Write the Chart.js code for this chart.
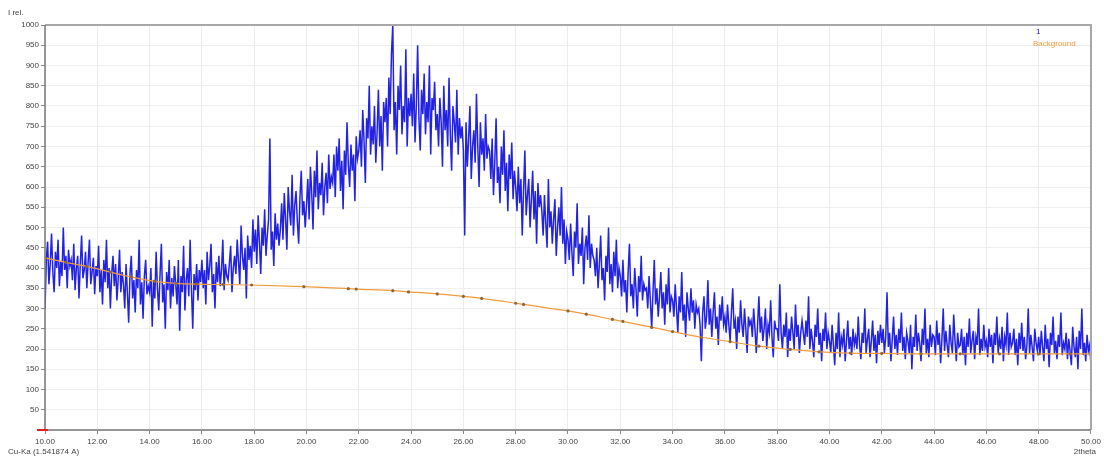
<!DOCTYPE html>
<html><head><meta charset="utf-8">
<script src="https://cdn.jsdelivr.net/npm/chart.js@4.4.1/dist/chart.umd.min.js"></script>
<style>html,body{margin:0;padding:0;background:#fff}#wrap{width:1104px;height:457px;position:relative}</style>
</head><body><div id="wrap"><canvas id="c" width="1104" height="457"></canvas></div>
<script>
// Scan: 2theta from 10.00 to 50.00 in 0.05 deg steps
const scanStart = 10.0;
const scanStep = 0.05;
const intensity = [
300,420,465,360,410,485,390,340,440,400,470,355,415,380,500,395,430,350,445,405,
420,370,460,345,400,430,325,410,480,375,395,440,350,415,470,360,390,425,335,405,
380,455,340,395,310,420,365,470,350,400,300,385,430,355,410,320,375,445,340,390,
360,300,410,340,265,385,430,325,370,290,395,350,470,310,365,275,380,420,335,355,
340,400,255,370,325,440,350,295,385,460,315,360,250,390,345,420,300,375,330,405,
360,310,420,245,380,340,455,295,370,400,330,470,350,250,385,345,410,320,395,365,
420,350,395,310,440,370,405,460,340,385,300,415,365,430,355,395,470,345,410,380,
370,410,455,340,400,430,385,470,415,360,505,430,395,450,325,480,420,455,400,520,
440,495,410,530,465,385,500,455,545,430,480,520,720,445,490,405,535,470,510,455,
495,560,470,585,520,445,600,540,505,630,480,555,590,515,460,575,640,530,565,500,
555,620,520,650,585,495,640,575,690,545,610,580,660,530,600,635,560,680,595,625,
610,680,575,700,640,720,590,665,545,690,630,760,655,600,705,640,680,565,725,670,
690,740,650,790,715,610,770,720,850,680,750,705,800,660,735,840,700,775,640,810,
760,820,700,870,780,930,1000,740,810,680,850,790,900,730,800,760,940,700,820,775,
830,750,880,710,800,950,770,690,840,780,880,730,810,760,900,680,820,790,860,740,
780,700,820,760,650,850,740,790,700,870,730,640,800,760,710,840,680,770,720,750,
690,480,760,650,720,800,620,700,740,660,830,700,600,760,680,720,640,780,670,700,
690,620,720,580,660,770,610,650,560,700,630,740,590,660,540,680,620,710,570,640,
600,540,650,560,620,480,590,690,530,580,620,500,570,640,520,590,460,610,550,580,
540,480,580,510,450,620,500,540,460,520,570,430,500,550,480,600,460,520,410,490,
470,420,510,440,380,490,450,560,410,460,430,500,360,450,480,420,530,400,460,430,
420,380,450,350,410,480,370,400,320,430,390,500,360,410,340,440,380,470,350,400,
380,330,420,340,370,290,390,460,330,360,300,400,350,280,380,340,430,320,360,345,
350,300,380,320,250,340,420,310,350,280,330,390,300,340,260,360,310,400,290,330,
320,280,360,300,240,330,290,390,270,310,230,340,300,270,350,290,320,250,310,290,
300,260,170,290,330,250,280,370,260,300,230,290,340,250,280,210,310,270,330,260,
280,240,310,260,220,290,350,250,270,200,280,240,320,260,230,300,250,190,280,260,
270,230,300,250,190,260,330,240,280,220,250,300,200,260,240,320,230,180,270,250,
250,220,360,240,200,260,230,290,180,250,220,280,240,200,310,230,260,190,240,270,
240,210,270,230,330,200,250,220,180,260,230,300,210,240,170,250,220,290,200,240,
220,190,260,210,160,240,200,290,180,230,210,250,170,220,270,200,230,185,250,210,
230,200,280,210,175,240,215,300,190,225,250,180,220,270,195,235,165,245,210,260,
215,250,190,230,340,205,240,170,225,280,200,235,185,250,215,290,195,230,175,240,
220,190,260,150,230,205,285,195,240,215,170,250,210,300,190,225,180,260,205,235,
230,185,270,210,240,165,225,300,195,245,210,180,260,215,190,285,220,170,240,205,
210,250,185,230,160,240,205,275,190,220,245,175,230,210,300,185,225,195,260,205,
220,180,250,205,235,165,240,210,280,190,225,200,255,170,230,210,290,185,240,205,
215,250,185,225,160,240,200,265,195,230,175,210,300,190,235,205,170,250,215,195,
230,185,245,205,170,260,200,225,155,240,210,280,190,220,175,235,205,290,185,215,
200,240,175,225,195,160,255,205,180,230,150,245,200,300,185,215,170,235,195,210,
160
];
// Background curve anchor points
const bgTheta = [10.0,10.8,11.6,12.5,13.3,14.2,15.0,15.8,16.8,17.9,19.9,21.6,21.9,23.3,23.9,25.0,26.0,26.7,28.0,28.3,30.0,30.7,31.7,32.1,33.2,34.0,35.1,36.2,37.3,38.5,39.6,40.8,42.0,43.5,45.0,46.5,48.0,49.2,50.0];
const bgCounts = [425,414,404,390,378,367,362,360,359,358,354,349,348,344,341,336,330,325,313,310,294,286,273,268,254,243,229,218,207,199,193,190,189,188,188,188,188,188,188];
const seriesNames = ['1','Background'];
const xAxisLabel = '2theta';
const yAxisLabel = 'I rel.';
const radiationLabel = 'Cu-Ka (1.541874 A)';

const scanPoints = intensity.map((v,i)=>({x: +(scanStart + i*scanStep).toFixed(2), y: v}));
const bgPoints = bgTheta.map((t,i)=>({x:t, y:bgCounts[i]}));

const FONT = "'Liberation Sans', Arial, sans-serif";

const decor = {
  id:'decor',
  afterDraw(chart){
    const {ctx, chartArea:a} = chart;
    ctx.save();
    ctx.strokeStyle = '#a8a8a8';
    ctx.lineWidth = 2;
    ctx.beginPath();
    ctx.moveTo(a.left, a.top); ctx.lineTo(a.right, a.top); ctx.lineTo(a.right, a.bottom);
    ctx.stroke();
    ctx.strokeStyle = '#777';
    ctx.lineWidth = 1.5;
    ctx.beginPath();
    ctx.moveTo(a.left, a.top); ctx.lineTo(a.left, a.bottom); ctx.lineTo(a.right, a.bottom);
    ctx.stroke();
    ctx.strokeStyle = '#e02020';
    ctx.lineWidth = 2;
    ctx.beginPath(); ctx.moveTo(a.left-8, a.bottom); ctx.lineTo(a.left+3, a.bottom); ctx.stroke();
    ctx.font = '8px ' + FONT;
    ctx.fillStyle = '#444';
    ctx.textBaseline = 'middle';
    ctx.textAlign = 'left';
    ctx.fillText(yAxisLabel, 8, 13);
    ctx.fillText(radiationLabel, 8, 452);
    ctx.textAlign = 'right';
    ctx.fillText(xAxisLabel, chart.width - 8, 452);
    ctx.textAlign = 'left';
    ctx.fillStyle = '#2020e0';
    ctx.fillText(seriesNames[0], a.right - 55, a.top + 7);
    ctx.fillStyle = '#f39a3c';
    ctx.fillText(seriesNames[1], a.right - 58, a.top + 19);
    ctx.restore();
  }
};

new Chart(document.getElementById('c'), {
  type:'line',
  data:{datasets:[
    {label:seriesNames[0], data:scanPoints, borderColor:'rgba(15,15,225,0.92)', borderWidth:1.5, pointRadius:0, tension:0, order:2},
    {label:seriesNames[1], data:bgPoints, borderColor:'#f39a3c', borderWidth:1.2, pointRadius:1.6, pointBackgroundColor:'#8a6a3a', pointBorderWidth:0, cubicInterpolationMode:'monotone', order:1}
  ]},
  options:{
    responsive:false, animation:false, devicePixelRatio:1,
    layout:{padding:{top:25, right:12, left:0, bottom:0}},
    plugins:{legend:{display:false}, tooltip:{enabled:false}},
    scales:{
      x:{type:'linear', min:10, max:50,
        afterFit(s){ s.height = 27; },
        ticks:{stepSize:2, autoSkip:false, maxRotation:0, padding:3, color:'#444', font:{family:FONT, size:8},
          callback:v=>v.toFixed(2)},
        grid:{color:'#ececec', tickColor:'#888', tickLength:4, drawTicks:true},
        border:{display:false}
      },
      y:{min:0, max:1000,
        afterFit(s){ s.width = 45; },
        ticks:{stepSize:50, padding:2, color:'#444', font:{family:FONT, size:8},
          callback:v=> v===0 ? '' : String(v)},
        grid:{color:'#efefef', tickColor:'#888', tickLength:4, drawTicks:true},
        border:{display:false}
      }
    }
  },
  plugins:[decor]
});
</script>
</body></html>
